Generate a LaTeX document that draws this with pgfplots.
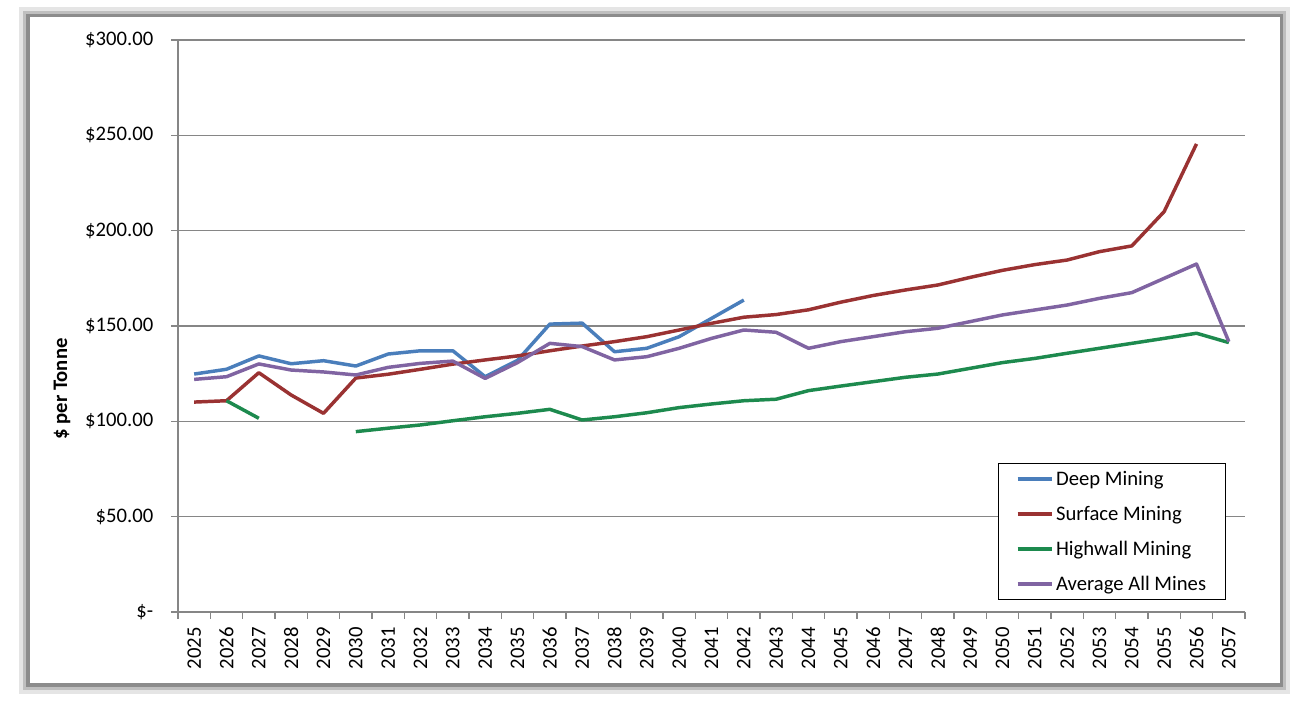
\documentclass[border=0pt]{standalone}
\usepackage{pgfplots}
\usepackage{pgfplotstable}
\pgfplotsset{compat=1.18}
\usepackage{fontspec}
\setmainfont{Carlito}

\definecolor{cDeep}{HTML}{4A7EBB}
\definecolor{cSurf}{HTML}{9A3232}
\definecolor{cHigh}{HTML}{1D8A4E}
\definecolor{cAvg}{HTML}{8064A2}
\definecolor{cGrid}{HTML}{868686}

\pgfplotstableread{
x deep surface high avg
0 124.8 110.1 nan 122.0
1 127.3 110.8 110.8 123.4
2 134.3 125.5 101.6 130.1
3 130.2 113.8 nan 126.9
4 131.8 104.2 nan 125.9
5 129.0 122.7 94.6 124.3
6 135.3 124.7 96.4 128.3
7 137.0 127.3 98.1 130.4
8 137.0 130.0 100.3 131.6
9 123.4 132.2 102.4 122.5
10 132.0 134.3 104.2 130.8
11 151.0 137.0 106.3 140.9
12 151.5 139.5 100.7 139.2
13 136.5 141.8 102.4 132.2
14 138.3 144.4 104.5 133.9
15 144.4 147.9 107.2 138.3
16 154.0 151.4 109.1 143.5
17 163.6 154.6 110.8 147.9
18 nan 156.0 111.6 146.7
19 nan 158.5 116.1 138.3
20 nan 162.5 118.5 141.8
21 nan 166.0 120.8 144.4
22 nan 168.9 123.1 147.0
23 nan 171.5 124.8 148.8
24 nan 175.5 127.8 152.3
25 nan 179.2 130.8 155.8
26 nan 182.2 133.0 158.4
27 nan 184.6 135.7 161.0
28 nan 189.0 138.3 164.5
29 nan 192.0 140.9 167.5
30 nan 210.0 143.5 175.0
31 nan 245.5 146.2 182.5
32 nan nan 141.3 141.8
}\data

\begin{document}
\begin{tikzpicture}
\begin{scope}[x=0.75pt,y=0.75pt]
\useasboundingbox (0,0) rectangle (1292,706);
\draw[black!10, line width=14] (28,21) rectangle (1281,690);
\draw[black!25, line width=8] (28,21) rectangle (1281,690);
\draw[black!45, line width=3] (28,21) rectangle (1281,690);
\fill[white] (29.5,22.5) rectangle (1279.5,688.5);
\end{scope}
\begin{axis}[
  at={(133.5pt,70.5pt)}, anchor=south west,
  scale only axis, width=800.25pt, height=429pt,
  xmin=-0.5, xmax=32.5, ymin=0, ymax=300,
  axis lines=left, axis line style={-, draw=cGrid, line width=1.2pt},
  xtick={0,...,32},
  xticklabels={2025,2026,2027,2028,2029,2030,2031,2032,2033,2034,2035,2036,2037,2038,2039,2040,2041,2042,2043,2044,2045,2046,2047,2048,2049,2050,2051,2052,2053,2054,2055,2056,2057},
  x tick label style={rotate=90, anchor=east, font=\fontsize{15.5}{18}\selectfont, xshift=-3pt},
  major x tick style={draw=none},
  minor xtick={-0.5,0.5,...,32.5},
  minor x tick style={draw=cGrid, line width=1.2pt},
  minor tick length=5pt,
  ytick={0,50,...,300},
  yticklabels={\$-\hspace{10pt},\$50.00,\$100.00,\$150.00,\$200.00,\$250.00,\$300.00},
  y tick label style={font=\fontsize{15.5}{18}\selectfont, xshift=-10pt},
  major y tick style={draw=cGrid, line width=1.2pt},
  major tick length=5pt,
  tick align=outside,
  ymajorgrids, grid style={draw=cGrid, line width=1.2pt},
  ylabel={\textbf{\$ per Tonne}},
  ylabel style={font=\fontsize{15.5}{18}\selectfont, at={(axis description cs:-0.1087,0.39)}, anchor=center},
  unbounded coords=jump,
  every axis plot/.append style={line width=2.6pt, line join=round},
  legend image code/.code={\draw[#1] (0pt,0pt) -- (26pt,0pt);},
  legend style={at={(0.7685,0.2605)}, anchor=north west, draw=black, line width=1pt,
    font=\fontsize{15.5}{18}\selectfont, cells={anchor=west}, row sep=10pt,
    inner xsep=13pt, inner ysep=3.5pt, nodes={inner xsep=1.5pt}},
  legend cell align=left,
]
\addplot[cDeep, line width=2.6pt] table[x=x,y=deep]{\data};
\addplot[cSurf, line width=2.6pt] table[x=x,y=surface]{\data};
\addplot[cHigh, line width=2.6pt] table[x=x,y=high]{\data};
\addplot[cAvg, line width=2.6pt] table[x=x,y=avg]{\data};
\legend{Deep Mining,Surface Mining,Highwall Mining,Average All Mines}
\end{axis}
\end{tikzpicture}
\end{document}
